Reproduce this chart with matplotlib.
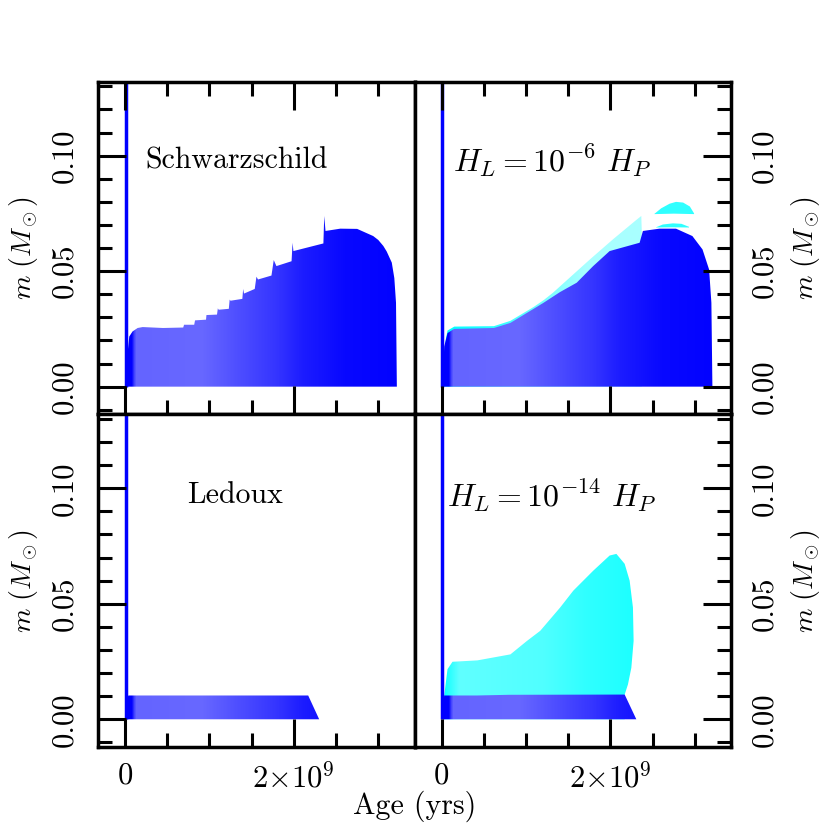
import numpy as np
import matplotlib
matplotlib.use('Agg')
import matplotlib.pyplot as plt
from matplotlib.patches import Polygon
from matplotlib.colors import LinearSegmentedColormap
from matplotlib.ticker import MultipleLocator, FormatStrFormatter

plt.rcParams['font.family'] = 'cmr10'
plt.rcParams['mathtext.fontset'] = 'cm'
plt.rcParams['axes.unicode_minus'] = False
plt.rcParams['axes.formatter.use_mathtext'] = True

# ages in Gyr, enclosed mass in Msun (outline of the convective regions)
pms_age = 0.01

schw_age = [0.0, 0.015, 0.031, 0.051, 0.09, 0.15, 0.21, 0.45, 0.69, 0.70, 0.82, 0.83,
            0.96, 0.965, 1.09, 1.10, 1.11, 1.23, 1.24, 1.25, 1.39, 1.40, 1.41, 1.537,
            1.557, 1.576, 1.735, 1.762, 1.794, 1.973, 1.985, 1.995, 2.35, 2.36, 2.375,
            2.55, 2.75, 2.94, 3.0, 3.06, 3.10, 3.16, 3.19, 3.21, 3.22]
schw_m = [0.0, 0.008, 0.0145, 0.0217, 0.0239, 0.0254, 0.0258, 0.0254, 0.0256, 0.0268,
          0.0268, 0.0287, 0.0290, 0.0310, 0.0312, 0.0339, 0.0333, 0.0337, 0.0377, 0.0372,
          0.0380, 0.0423, 0.0403, 0.0423, 0.0476, 0.0464, 0.0481, 0.0548, 0.0522, 0.0543,
          0.0623, 0.0587, 0.0620, 0.0739, 0.0674, 0.0684, 0.0683, 0.0652, 0.0635, 0.0609,
          0.0585, 0.0537, 0.0470, 0.0363, 0.0]

hl6_age = [0.0, 0.012, 0.031, 0.07, 0.148, 0.62, 0.815, 1.09, 1.207, 1.40, 1.60, 1.795,
           1.99, 2.345, 2.384, 2.58, 2.776, 2.97, 3.09, 3.168, 3.195, 3.207]
hl6_m = [0.0, 0.0, 0.0174, 0.0232, 0.0250, 0.0254, 0.0276, 0.0337, 0.0363, 0.0409,
         0.0450, 0.0522, 0.0587, 0.0623, 0.0674, 0.0684, 0.0684, 0.0652, 0.0594, 0.0507,
         0.0363, 0.0]
hl6_cyan_age = [0.02, 0.05, 0.07, 0.15, 0.62, 0.815, 1.09, 1.21, 1.32, 1.757, 2.03,
                2.30, 2.365, 2.37, 2.37, 0.02]
hl6_cyan_m = [0.012, 0.0205, 0.0243, 0.0260, 0.0262, 0.0285, 0.0345, 0.0375, 0.0407,
              0.0551, 0.0638, 0.0720, 0.0739, 0.0680, 0.0, 0.0]
arc_hi_age = [2.52, 2.60, 2.70, 2.776, 2.86, 2.94, 2.99, 2.99, 2.75, 2.52]
arc_hi_m = [0.0748, 0.0772, 0.0792, 0.0800, 0.0797, 0.0780, 0.0750, 0.0747, 0.0749, 0.0747]
arc_lo_age = [2.54, 2.62, 2.74, 2.84, 2.93, 2.93, 2.74, 2.54]
arc_lo_m = [0.0690, 0.0702, 0.0707, 0.0705, 0.0692, 0.0689, 0.0690, 0.0689]

led_age = [0.0, 0.012, 0.02, 0.04, 2.17, 2.30]
led_m = [0.0, 0.0, 0.008, 0.0103, 0.0103, 0.0]

hl14_age = [0.0, 0.012, 0.03, 0.42, 0.8, 2.168, 2.306]
hl14_m = [0.0, 0.0, 0.0103, 0.0103, 0.0106, 0.0107, 0.0]
hl14_cyan_age = [0.031, 0.07, 0.129, 0.424, 0.815, 1.01, 1.168, 1.404, 1.56, 1.795,
                 1.99, 2.07, 2.168, 2.227, 2.266, 2.274, 2.247, 2.207, 2.168, 2.168, 0.031]
hl14_cyan_m = [0.0103, 0.0217, 0.0249, 0.0255, 0.0281, 0.0339, 0.0383, 0.0484, 0.0557,
               0.0643, 0.0709, 0.0716, 0.0673, 0.0600, 0.0484, 0.0339, 0.0223, 0.0151,
               0.0107, 0.0, 0.0]

labels = ['Schwarzschild', r'$H_L=10^{-6}\ H_P$', 'Ledoux', r'$H_L=10^{-14}\ H_P$']
label_pos = [(0.24, 0.098), (0.13, 0.098), (0.74, 0.097), (0.06, 0.097)]
label_size = [21.5, 23, 21.5, 23]

# colour stops imitating the density of the model lines
blue_stops = [0.0, 0.07, 0.12, 0.9, 1.3, 1.8, 2.1, 2.6, 3.4]
blue_cols = ['#0000ff', '#0000ff', '#6464ff', '#6868ff', '#5050ff', '#3434ff', '#1c1cff',
             '#0808ff', '#0000ff']
cyan_stops = [0.0, 0.1, 0.2, 1.2, 1.7, 2.4]
cyan_cols = ['#00ffff', '#30ffff', '#60ffff', '#50ffff', '#30ffff', '#18ffff']
cyan6_stops = [0.0, 0.5, 1.3, 1.7, 2.4, 3.4]
cyan6_cols = ['#00ffff', '#20ffff', '#80ffff', '#a8ffff', '#a8ffff', '#a8ffff']
arc_stops = [2.4, 3.1]
arc_cols = ['#30ffff', '#30ffff']


def shaded(ax, ages, ms, stops, cols, z):
    xy = np.column_stack([np.array(ages) * 1e9, ms])
    poly = Polygon(xy, closed=True, facecolor='none', edgecolor='none')
    ax.add_patch(poly)
    x0, x1 = stops[0], stops[-1]
    pos = [(s - x0) / (x1 - x0) for s in stops]
    cmap = LinearSegmentedColormap.from_list('s', list(zip(pos, cols)))
    grad = np.linspace(0, 1, 600)[None, :]
    im = ax.imshow(grad, cmap=cmap, extent=(x0 * 1e9, x1 * 1e9, -0.02, 0.2),
                   aspect='auto', origin='lower', zorder=z, interpolation='bilinear')
    im.set_clip_path(poly)


fig = plt.figure(figsize=(8.3, 8.3), dpi=100)
gs = fig.add_gridspec(2, 2, left=0.118, right=0.881, bottom=0.100, top=0.9015,
                      hspace=0, wspace=0)
axes = [fig.add_subplot(gs[r, c]) for r in range(2) for c in range(2)]

# top left
shaded(axes[0], schw_age, schw_m, blue_stops, blue_cols, 1.2)
# top right
shaded(axes[1], hl6_cyan_age, hl6_cyan_m, cyan6_stops, cyan6_cols, 1.1)
shaded(axes[1], arc_hi_age, arc_hi_m, arc_stops, arc_cols, 1.1)
shaded(axes[1], arc_lo_age, arc_lo_m, arc_stops, arc_cols, 1.1)
shaded(axes[1], hl6_age, hl6_m, blue_stops, blue_cols, 1.2)
# bottom left
shaded(axes[2], led_age, led_m, blue_stops, blue_cols, 1.2)
# bottom right
shaded(axes[3], hl14_cyan_age, hl14_cyan_m, cyan_stops, cyan_cols, 1.1)
shaded(axes[3], hl14_age, hl14_m, blue_stops, blue_cols, 1.2)

for i, ax in enumerate(axes):
    row, col = divmod(i, 2)
    ax.vlines(pms_age * 1e9, 0, 1, color='blue', lw=2.5, zorder=2)
    ax.text(label_pos[i][0] * 1e9, label_pos[i][1], labels[i], fontsize=label_size[i],
            ha='left', va='center')
    ax.set_xlim(-0.32e9, 3.43e9)
    ax.set_ylim(-0.012, 0.132)
    ax.set_xticks([0, 2e9], ['0', r'$2{\times}10^9$'])
    ax.xaxis.set_minor_locator(MultipleLocator(0.5e9))
    ax.set_yticks([0.0, 0.05, 0.10])
    ax.yaxis.set_major_formatter(FormatStrFormatter('%.2f'))
    ax.yaxis.set_minor_locator(MultipleLocator(0.01))
    ax.set_axisbelow(False)
    ax.tick_params(which='both', direction='in', width=2.2, top=(row == 0), bottom=True,
                   labelbottom=(row == 1), left=(col == 0), right=(col == 1),
                   labelleft=(col == 0), labelright=(col == 1), labelsize=22)
    ax.tick_params(which='major', length=20)
    ax.tick_params(which='minor', length=10)
    ax.tick_params(axis='y', labelrotation=90, pad=14)
    ax.tick_params(axis='x', pad=11)
    plt.setp(ax.get_yticklabels(), va='center')
    for sp in ax.spines.values():
        sp.set_linewidth(2.5)
    ax.set_ylabel(r'$m\ (M_\odot)$', fontsize=20, labelpad=8)
    if col == 1:
        ax.yaxis.set_label_position('right')

fig.text(0.5, 1 - 806 / 830, 'Age (yrs)', ha='center', va='center', fontsize=21.5)

fig.savefig('out.png', dpi=100)
